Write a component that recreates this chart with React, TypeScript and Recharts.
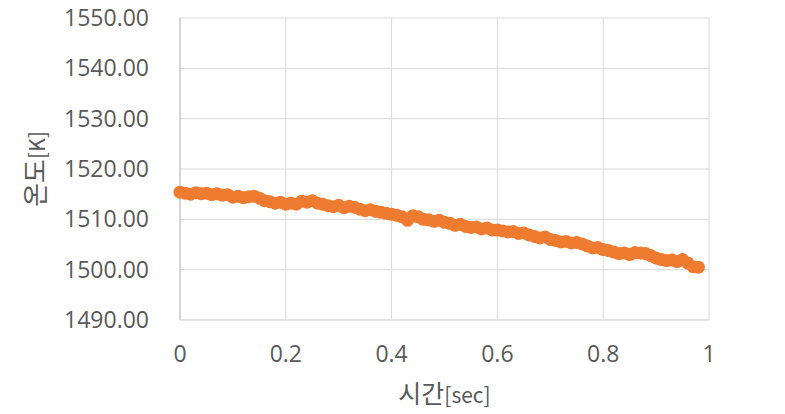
import React from "react";
import { ScatterChart, Scatter, XAxis, YAxis, CartesianGrid, Label } from "recharts";

const timeSec: number[] = [
  0.0, 0.01, 0.02, 0.03, 0.04, 0.05, 0.06, 0.07, 0.08, 0.09,
  0.1, 0.11, 0.12, 0.13, 0.14, 0.15, 0.16, 0.17, 0.18, 0.19,
  0.2, 0.21, 0.22, 0.23, 0.24, 0.25, 0.26, 0.27, 0.28, 0.29,
  0.3, 0.31, 0.32, 0.33, 0.34, 0.35, 0.36, 0.37, 0.38, 0.39,
  0.4, 0.41, 0.42, 0.43, 0.44, 0.45, 0.46, 0.47, 0.48, 0.49,
  0.5, 0.51, 0.52, 0.53, 0.54, 0.55, 0.56, 0.57, 0.58, 0.59,
  0.6, 0.61, 0.62, 0.63, 0.64, 0.65, 0.66, 0.67, 0.68, 0.69,
  0.7, 0.71, 0.72, 0.73, 0.74, 0.75, 0.76, 0.77, 0.78, 0.79,
  0.8, 0.81, 0.82, 0.83, 0.84, 0.85, 0.86, 0.87, 0.88, 0.89,
  0.9, 0.91, 0.92, 0.93, 0.94, 0.95, 0.96, 0.97, 0.98,
];

const temperatureK: number[] = [
  1515.4, 1515.2, 1515.0, 1515.3, 1515.1, 1515.2, 1514.9, 1515.1, 1514.8, 1514.9,
  1514.4, 1514.6, 1514.3, 1514.5, 1514.6, 1514.2, 1513.7, 1513.5, 1513.2, 1513.4,
  1513.0, 1513.2, 1513.0, 1513.6, 1513.4, 1513.7, 1513.2, 1513.0, 1512.7, 1512.5,
  1512.8, 1512.3, 1512.6, 1512.4, 1512.0, 1511.7, 1511.9, 1511.6, 1511.4, 1511.2,
  1511.0, 1510.8, 1510.5, 1509.8, 1510.7, 1510.5, 1510.0, 1509.9, 1509.6, 1509.8,
  1509.4, 1509.2, 1508.8, 1509.0, 1508.6, 1508.4, 1508.5, 1508.1, 1508.3, 1507.9,
  1507.9, 1507.7, 1507.5, 1507.6, 1507.2, 1507.3, 1506.9, 1506.6, 1506.3, 1506.5,
  1506.0, 1505.8, 1505.5, 1505.6, 1505.3, 1505.4, 1505.1, 1504.7, 1504.3, 1504.4,
  1504.0, 1503.8, 1503.5, 1503.2, 1503.3, 1503.0, 1503.4, 1503.3, 1503.2, 1502.8,
  1502.3, 1502.0, 1501.8, 1501.9, 1501.6, 1502.0, 1501.3, 1500.6, 1500.5,
];

const xTicks: number[] = [0, 0.2, 0.4, 0.6, 0.8, 1];
const yTicks: number[] = [1490, 1500, 1510, 1520, 1530, 1540, 1550];

const xTitleKo = "시간";
const xTitleUnit = "[sec]";
const yTitleKo = "온도";
const yTitleUnit = "[K]";

const data = timeSec.map((t, i) => ({ x: t, y: temperatureK[i] }));

const ORANGE = "#ee7b30";
const TEXT = "#595959";
const GRID = "#d9d9d9";
const TICK_FONT = "'Open Sans', 'DejaVu Sans', sans-serif";
const KO_FONT = "'Noto Sans CJK KR', 'Noto Sans', sans-serif";

const Dot = (props: any) => {
  const { cx, cy } = props;
  if (cx == null || cy == null) return null;
  return <circle cx={cx} cy={cy} r={6.5} fill={ORANGE} />;
};

const XTitle = (props: any) => {
  const vb = props.viewBox || {};
  const cx = vb.x + vb.width / 2;
  return (
    <text x={cx} y={403} textAnchor="middle" fill={TEXT} fontFamily={KO_FONT}>
      <tspan fontSize={25}>{xTitleKo}</tspan>
      <tspan fontSize={21}>{xTitleUnit}</tspan>
    </text>
  );
};

const YTitle = (props: any) => {
  const vb = props.viewBox || {};
  const cy = vb.y + vb.height / 2;
  const cx = 45;
  return (
    <text
      x={cx}
      y={cy}
      textAnchor="middle"
      fill={TEXT}
      fontFamily={KO_FONT}
      transform={`rotate(-90, ${cx}, ${cy})`}
    >
      <tspan fontSize={26}>{yTitleKo}</tspan>
      <tspan fontSize={21}>{yTitleUnit}</tspan>
    </text>
  );
};

export default function App() {
  return (
    <div style={{ position: "absolute", left: 0, top: 0, background: "#fff" }}>
      <ScatterChart
        width={785}
        height={414}
        margin={{ top: 18, right: 76, bottom: 0, left: 0 }}
      >
        <CartesianGrid stroke={GRID} strokeWidth={1} />
        <XAxis
          type="number"
          dataKey="x"
          domain={[0, 1]}
          ticks={xTicks}
          tickFormatter={(v: number) => String(v)}
          height={94}
          axisLine={{ stroke: GRID }}
          tickLine={false}
          tickSize={0}
          tickMargin={26}
          tick={{ fill: TEXT, fontSize: 23, fontFamily: TICK_FONT }}
          interval={0}
        >
          <Label content={<XTitle />} />
        </XAxis>
        <YAxis
          type="number"
          dataKey="y"
          domain={[1490, 1550]}
          ticks={yTicks}
          tickFormatter={(v: number) => v.toFixed(2)}
          width={180}
          axisLine={{ stroke: "#bfbfbf" }}
          tickLine={false}
          tickSize={0}
          tickMargin={31}
          tick={{ fill: TEXT, fontSize: 23, fontFamily: TICK_FONT }}
          interval={0}
        >
          <Label content={<YTitle />} />
        </YAxis>
        <Scatter data={data} fill={ORANGE} shape={<Dot />} isAnimationActive={false} />
      </ScatterChart>
    </div>
  );
}
